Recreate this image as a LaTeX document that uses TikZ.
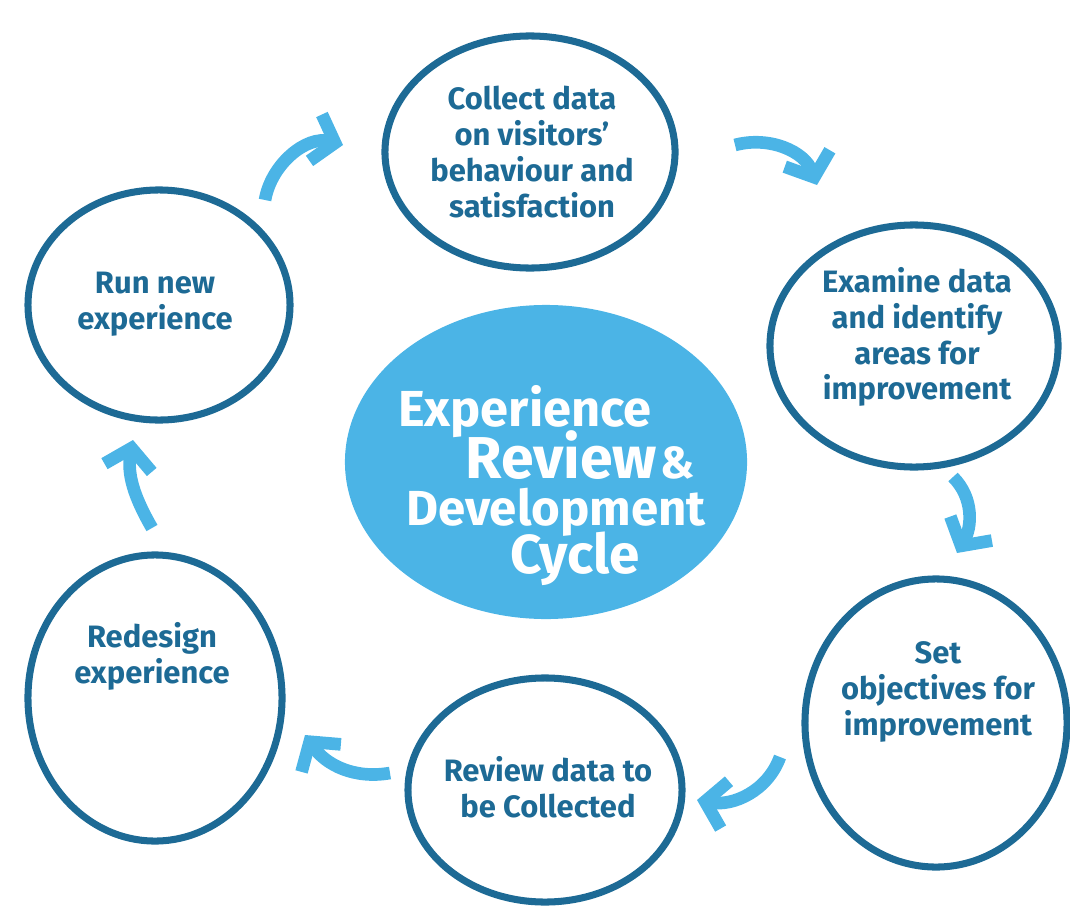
\documentclass[tikz,border=0pt]{standalone}
\usepackage{fontspec}
\setmainfont{Fira Sans}
\usepackage{xcolor}
\usetikzlibrary{arrows.meta}
\usetikzlibrary{shapes.geometric}

\definecolor{rimblue}{HTML}{1D6A95}
\definecolor{skyblue}{HTML}{4BB4E6}

\begin{document}
\begin{tikzpicture}[x=0.025cm, y=-0.025cm,
    stage/.style={ellipse, draw=rimblue, line width=5pt, inner sep=0pt},
    caption/.style={align=center, text=rimblue, font=\fontsize{22}{25.5}\selectfont\bfseries},
    hub/.style={ellipse, fill=skyblue, inner sep=0pt},
    headline/.style={inner sep=0pt, text=white, font=\bfseries},
    turn/.style={draw=skyblue, line width=9pt, -{Straight Barb[length=5mm, width=12mm]}}]
  \useasboundingbox (0,0) rectangle (1070,906);

  % the six stages
  \node[stage, minimum width=7.25cm, minimum height=5.8cm] (collect) at (530,152) {};
  \node[stage, minimum width=7.2cm, minimum height=6.05cm] (examine) at (914,346) {};
  \node[stage, minimum width=6.55cm, minimum height=7.2cm] (objectives) at (936,723) {};
  \node[stage, minimum width=6.85cm, minimum height=5.6cm] (review) at (545,790) {};
  \node[stage, minimum width=6.35cm, minimum height=7.15cm] (redesign) at (155,698) {};
  \node[stage, minimum width=6.55cm, minimum height=5.75cm] (run) at (159,305) {};

  \node[caption] (collect-txt) at (532,152) {Collect data\\on visitors'\\behaviour and\\satisfaction};
  \node[caption] (examine-txt) at (917,337) {Examine data\\and identify\\areas for\\improvement};
  \node[caption] (objectives-txt) at (938,692) {Set\\objectives for\\improvement};
  \node[caption] (review-txt) at (548,787) {Review data to\\be Collected};
  \node[caption] (redesign-txt) at (152,656) {Redesign\\experience};
  \node[caption] (run-txt) at (155,304) {Run new\\experience};

  % centre
  \node[hub, minimum width=10.05cm, minimum height=7.85cm] (hub) at (546,462) {};
  \node[headline, font=\fontsize{36}{40}\selectfont\bfseries] (exp-line) at (525,412) {Experience};
  \node[headline, anchor=base] (review-line) at (580,478)
    {{\fontsize{42}{44}\selectfont Review} {\fontsize{32}{34}\selectfont\&}};
  \node[headline, font=\fontsize{35}{38}\selectfont\bfseries] (dev-line) at (556,512) {Development};
  \node[headline, font=\fontsize{39}{42}\selectfont\bfseries] (cycle-line) at (575,559) {Cycle};

  % arrows between the stages
  \coordinate (a1) at (265,200); \coordinate (b1) at (343,145);
  \coordinate (a2) at (735,145); \coordinate (b2) at (817,185);
  \coordinate (a3) at (953,477); \coordinate (b3) at (957,553);
  \coordinate (a4) at (780,757); \coordinate (b4) at (697,800);
  \coordinate (a5) at (390,773); \coordinate (b5) at (305,735);
  \coordinate (a6) at (152,528); \coordinate (b6) at (133,440);

  \draw[turn] (a1) to[out=80, in=165] (b1);
  \draw[turn] (a2) to[out=15, in=110] (b2);
  \draw[turn] (a3) to[out=-45, in=60] (b3);
  \draw[turn] (a4) to[out=-110, in=-10] (b4);
  \draw[turn] (a5) to[out=190, in=-55] (b5);
  \draw[turn] (a6) to[out=120, in=-100] (b6);
\end{tikzpicture}
\end{document}
